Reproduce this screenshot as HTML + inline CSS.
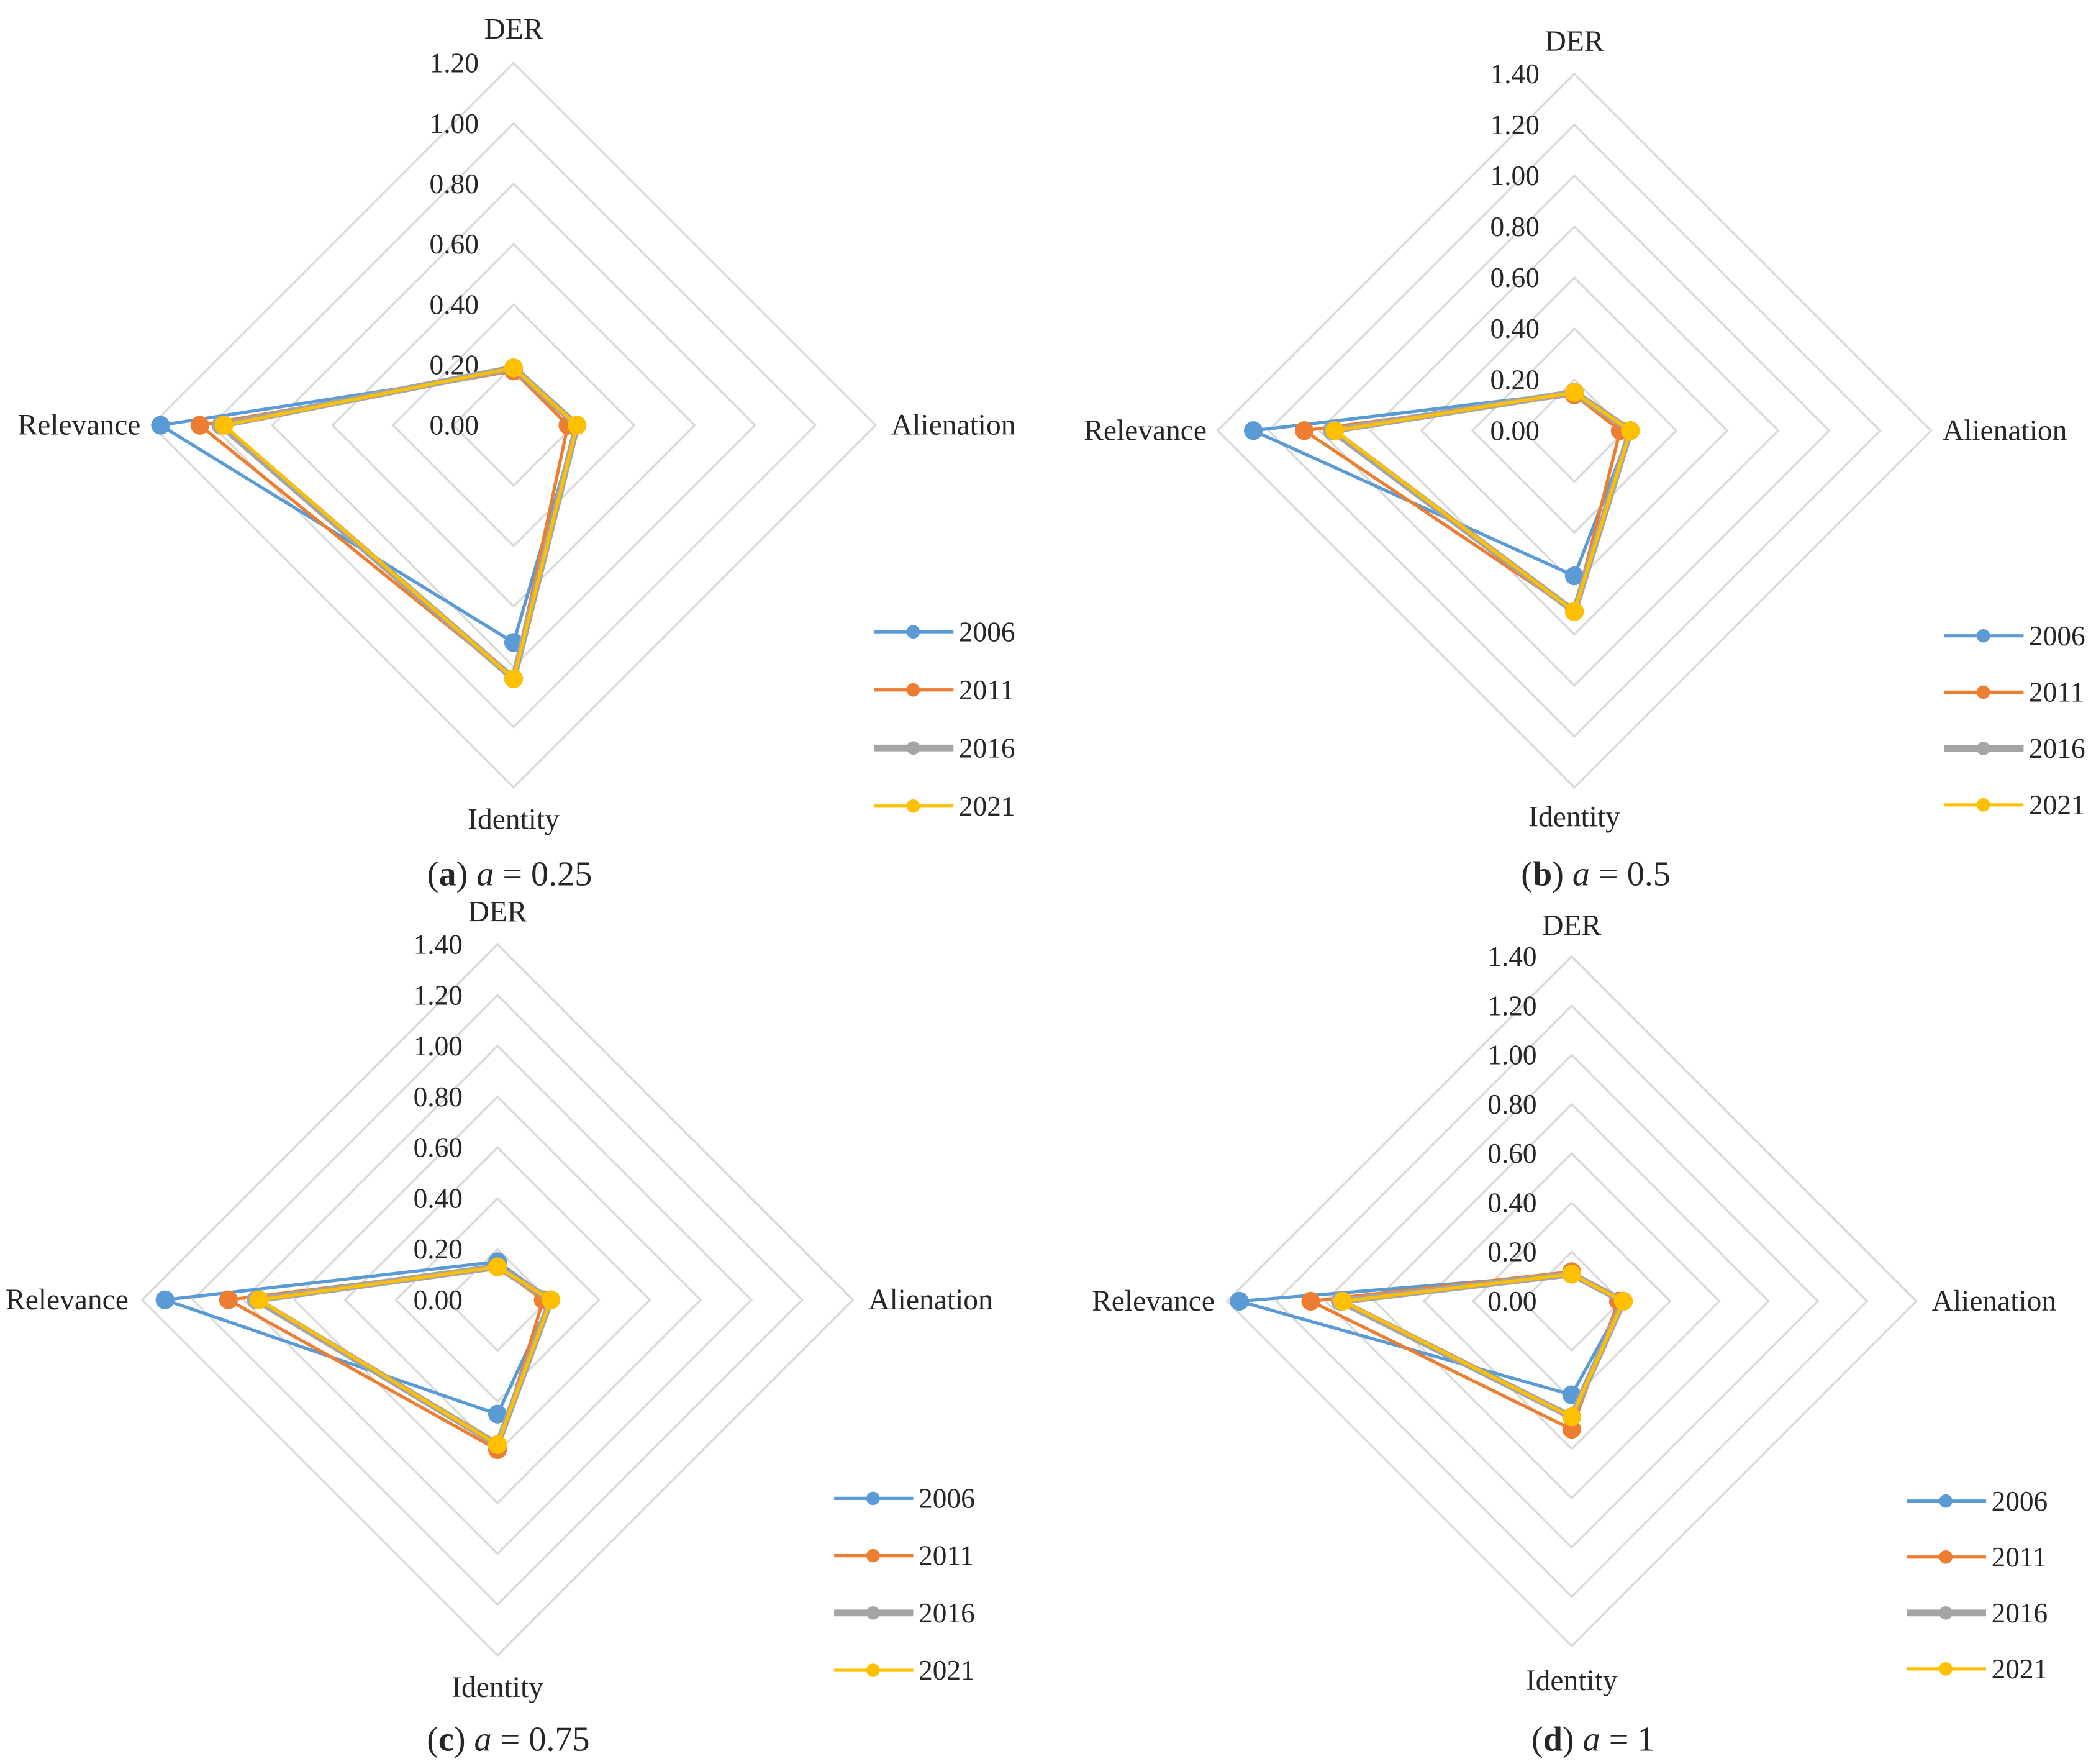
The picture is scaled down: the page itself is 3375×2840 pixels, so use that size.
<!DOCTYPE html>
<html><head><meta charset="utf-8"><style>
html,body{margin:0;padding:0;background:#fff;}
svg{display:block;}
text{font-family:"Liberation Serif","Times New Roman",serif;fill:#262626;}
</style></head><body>
<svg id="fig" width="3375" height="2840" viewBox="0 0 1563 1315" preserveAspectRatio="none" xmlns="http://www.w3.org/2000/svg" font-family="Liberation Serif, serif"></svg>
<script>
const axisNames = ["DER","Alienation","Identity","Relevance"];
const years = ["2006","2011","2016","2021"];
const captionsA = ["a","b","c","d"];
const captionsVal = ["0.25","0.5","0.75","1"];
const maxVals = [1.2,1.4,1.4,1.4];
// values per panel: [DER, Alienation, Identity, Relevance]
const panelA2006 = [0.18,0.21,0.72,1.17];
const panelA2011 = [0.18,0.18,0.84,1.04];
const panelA2016 = [0.19,0.21,0.84,0.97];
const panelA2021 = [0.19,0.21,0.84,0.96];
const panelB2006 = [0.15,0.22,0.57,1.26];
const panelB2011 = [0.14,0.18,0.71,1.06];
const panelB2016 = [0.15,0.22,0.71,0.95];
const panelB2021 = [0.15,0.22,0.71,0.94];
const panelC2006 = [0.15,0.21,0.45,1.31];
const panelC2011 = [0.13,0.18,0.59,1.06];
const panelC2016 = [0.13,0.21,0.57,0.95];
const panelC2021 = [0.13,0.21,0.57,0.94];
const panelD2006 = [0.11,0.21,0.38,1.35];
const panelD2011 = [0.12,0.19,0.52,1.06];
const panelD2016 = [0.11,0.21,0.47,0.94];
const panelD2021 = [0.11,0.21,0.47,0.93];
const tickLabels = ["0.00","0.20","0.40","0.60","0.80","1.00","1.20","1.40"];

const panelSeries = [
  [panelA2006,panelA2011,panelA2016,panelA2021],
  [panelB2006,panelB2011,panelB2016,panelB2021],
  [panelC2006,panelC2011,panelC2016,panelC2021],
  [panelD2006,panelD2011,panelD2016,panelD2021]
];
const layout = [
  {cx:383,cy:317,R:270,leg:[652,471,43.3],cap:[380,651],lab:{der:22,ali:711,idn:611,rel:59}},
  {cx:1174,cy:321,R:266,leg:[1450,474,42],cap:[1190,651],lab:{der:31,ali:1495,idn:609,rel:854}},
  {cx:371,cy:969,R:265,leg:[622,1117,42.7],cap:[379,1296],lab:{der:680,ali:694,idn:1258,rel:50}},
  {cx:1172,cy:970,R:257,leg:[1422,1119,41.7],cap:[1188,1296],lab:{der:690,ali:1487,idn:1253,rel:860}}
];
const colors=["#5b9bd5","#ed7d31","#a5a5a5","#ffc000"];
const widths=[2.4,2.4,5,2.4];
const NS="http://www.w3.org/2000/svg";
const svg=document.getElementById('fig');
function mk(tag,attrs,parent){const e=document.createElementNS(NS,tag);for(const k in attrs)e.setAttribute(k,attrs[k]);(parent||svg).appendChild(e);return e;}
const dirs=[[0,-1],[1,0],[0,1],[-1,0]];
const FF='"Liberation Serif", serif';

layout.forEach((L,p)=>{
  const g=mk('g',{});
  
  
  const max=maxVals[p];
  const r=v=>v/max*L.R;
  const nT=Math.round(max/0.2);
  for(let i=1;i<=nT;i++){
    const rr=r(i*0.2);
    const pts=dirs.map(d=>(L.cx+d[0]*rr)+','+(L.cy+d[1]*rr)).join(' ');
    const ring=mk('polygon',{points:pts,fill:'none',stroke:'#d9d9d9','stroke-width':1.5},g);
    
    
  }
  for(let i=0;i<=nT;i++){
    const t=mk('text',{x:L.cx-26,y:L.cy-r(i*0.2)+7,'text-anchor':'end','font-size':21,'font-family':FF},g);
    t.textContent=tickLabels[i];
    
    
  }
  const la=[[L.cx,L.lab.der+7,'middle'],[L.lab.ali,L.cy+7,'middle'],[L.cx,L.lab.idn+7,'middle'],[L.lab.rel,L.cy+7,'middle']];
  la.forEach((a,i)=>{
    const t=mk('text',{x:a[0],y:a[1],'text-anchor':a[2],'font-size':22,'font-family':FF},g);
    t.textContent=axisNames[i];
    
    
  });
  panelSeries[p].forEach((vals,s)=>{
    const pts=vals.map((v,i)=>[L.cx+dirs[i][0]*r(v),L.cy+dirs[i][1]*r(v)]);
    const pl=mk('polygon',{points:pts.map(q=>q.join(',')).join(' '),fill:'none',stroke:colors[s],'stroke-width':widths[s],'stroke-linejoin':'round'},g);
    
    
    pts.forEach(q=>{
      const c=mk('circle',{cx:q[0],cy:q[1],r:7,fill:colors[s]},g);
      
      
    });
  });
  years.forEach((y,s)=>{
    const yy=L.leg[1]+s*L.leg[2];
    const lg=mk('g',{},g);
    
    
    mk('line',{x1:L.leg[0],y1:yy,x2:L.leg[0]+59,y2:yy,stroke:colors[s],'stroke-width':widths[s]},lg);
    mk('circle',{cx:L.leg[0]+29,cy:yy,r:5,fill:colors[s]},lg);
    const t=mk('text',{x:L.leg[0]+63,y:yy+7,'font-size':21,'font-family':FF},lg);
    t.textContent=y;
  });
  const cap=mk('text',{x:L.cap[0],y:L.cap[1]+9,'text-anchor':'middle','font-size':26,'font-family':FF},g);
  
  
  cap.innerHTML='(<tspan font-weight="bold">'+captionsA[p]+'</tspan>) <tspan font-style="italic">a</tspan> = '+captionsVal[p];
});
</script>
</body></html>
